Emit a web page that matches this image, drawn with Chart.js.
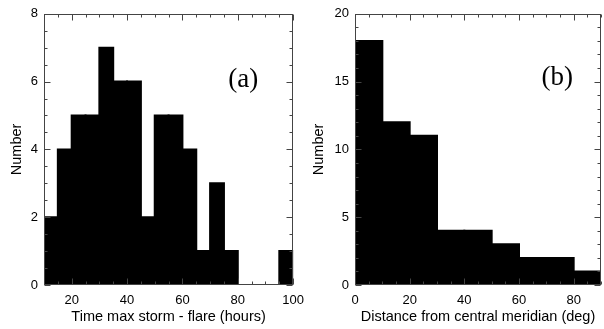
<!DOCTYPE html>
<html><head><meta charset="utf-8">
<script src="https://cdn.jsdelivr.net/npm/chart.js@4/dist/chart.umd.min.js"></script>
<style>
html,body{margin:0;padding:0;background:#fff;width:604px;height:329px;overflow:hidden}
.p{position:absolute;top:0;height:329px}
</style></head><body>
<div class="p" style="left:0;width:312px"><canvas id="ca"></canvas></div>
<div class="p" style="left:302px;width:302px"><canvas id="cb"></canvas></div>
<script>
// ---- Panel (a): time between max storm and flare (hours) ----
const binEdgesA = [10, 15, 20, 25, 30, 35, 40, 45, 50, 55, 60, 65, 70, 75, 80, 85, 90, 95];
const countsA   = [ 2,  4,  5,  5,  7,  6,  6,  2,  5,  5,  4,  1,  3,  1,  0,  0,  0,  1];
const binWidthA = 5;
const xTicksA = [20, 40, 60, 80, 100];
const yTicksA = [0, 2, 4, 6, 8];

// ---- Panel (b): distance from central meridian (deg) ----
const binEdgesB = [0, 10, 20, 30, 40, 50, 60, 70, 80];
const countsB   = [18, 12, 11, 4, 4, 3, 2, 2, 1];
const binWidthB = 10;
const xTicksB = [0, 20, 40, 60, 80];
const yTicksB = [0, 5, 10, 15, 20];

const SANS = '"Liberation Sans", Arial, Helvetica, sans-serif';
const SERIF = '"Liberation Serif", "Times New Roman", serif';

const frameTicks = {
  id: 'frameTicks',
  afterDatasetsDraw(chart, args, o) {
    const {ctx, chartArea: a, scales: {x, y}} = chart;
    ctx.save();
    ctx.strokeStyle = o.color;
    ctx.lineWidth = 1;
    const line = (x1, y1, x2, y2) => { ctx.beginPath(); ctx.moveTo(x1, y1); ctx.lineTo(x2, y2); ctx.stroke(); };
    const L = Math.round(a.left) + 0.5, R = Math.round(a.right) - 0.5;
    const T = Math.round(a.top) + 0.5, B = Math.round(a.bottom) - 0.5;
    ctx.strokeRect(L, T, R - L, B - T);
    for (let v = x.min; v <= x.max + 1e-9; v += o.xMinor) {
      const px = Math.round(x.getPixelForValue(v)) + 0.5;
      const len = o.xMajor.includes(v) ? o.major : o.minor;
      line(px, B, px, B - len);
      line(px, T, px, T + len);
    }
    for (let v = y.min; v <= y.max + 1e-9; v += o.yMinor) {
      const py = Math.round(y.getPixelForValue(v)) + 0.5;
      const len = o.yMajor.includes(v) ? o.major : o.minor;
      line(L, py, L + len, py);
      line(R, py, R - len, py);
    }
    ctx.fillStyle = '#000';
    ctx.font = o.labelFont;
    ctx.textAlign = 'center';
    ctx.textBaseline = 'middle';
    ctx.fillText(o.label, x.getPixelForValue(o.lx), y.getPixelForValue(o.ly));
    ctx.restore();
  }
};

function makeChart(id, edges, counts, width, xMin, xMax, xTicks, yMax, yTicks, xTitle, pad, yWidth, extra) {
  const data = edges.map((e, i) => ({x: e + width / 2, y: counts[i]}));
  return new Chart(document.getElementById(id), {
    type: 'bar',
    data: { datasets: [{ data, backgroundColor: '#000', borderWidth: 0, inflateAmount: 1,
      barPercentage: 1, categoryPercentage: 1, grouped: false }] },
    options: {
      responsive: true, maintainAspectRatio: false, animation: false, devicePixelRatio: 1,
      layout: { padding: pad },
      plugins: { legend: { display: false }, tooltip: { enabled: false }, frameTicks: extra },
      scales: {
        x: {
          type: 'linear', min: xMin, max: xMax, offset: false,
          afterBuildTicks: s => { s.ticks = xTicks.map(v => ({value: v})); },
          afterFit: s => { s.height = 44; },
          grid: { display: false, drawTicks: false, offset: false },
          border: { display: false },
          ticks: { color: '#000', font: { family: SANS, size: 13 }, padding: 8, maxRotation: 0, autoSkip: false },
          title: { display: true, text: xTitle, color: '#000', font: { family: SANS, size: 14.5 }, padding: { top: 0, bottom: 3 } }
        },
        y: {
          type: 'linear', min: 0, max: yMax,
          afterBuildTicks: s => { s.ticks = yTicks.map(v => ({value: v})); },
          afterFit: s => { s.width = yWidth; },
          grid: { display: false, drawTicks: false },
          border: { display: false },
          ticks: { color: '#000', font: { family: SANS, size: 13 }, padding: 6 },
          title: { display: true, text: 'Number', color: '#000', font: { family: SANS, size: 14.5 }, padding: { top: 8, bottom: 0 } }
        }
      }
    },
    plugins: [frameTicks]
  });
}

makeChart('ca', binEdgesA, countsA, binWidthA, 10, 100, xTicksA, 8, yTicksA,
  'Time max storm - flare (hours)', { top: 9, right: 17, left: 0, bottom: 0 }, 44,
  { color: '#444', xMinor: 5, yMinor: 0.5, xMajor: xTicksA, yMajor: yTicksA, major: 6, minor: 3,
    label: '(a)', lx: 82, ly: 6.05, labelFont: '27px ' + SERIF });

makeChart('cb', binEdgesB, countsB, binWidthB, 0, 90, xTicksB, 20, yTicksB,
  'Distance from central meridian (deg)', { top: 12, right: 3, left: 0, bottom: 0 }, 53,
  { color: '#444', xMinor: 5, yMinor: 1, xMajor: xTicksB, yMajor: yTicksB, major: 6, minor: 3,
    label: '(b)', lx: 74, ly: 15.3, labelFont: '27px ' + SERIF });
</script>
</body></html>
